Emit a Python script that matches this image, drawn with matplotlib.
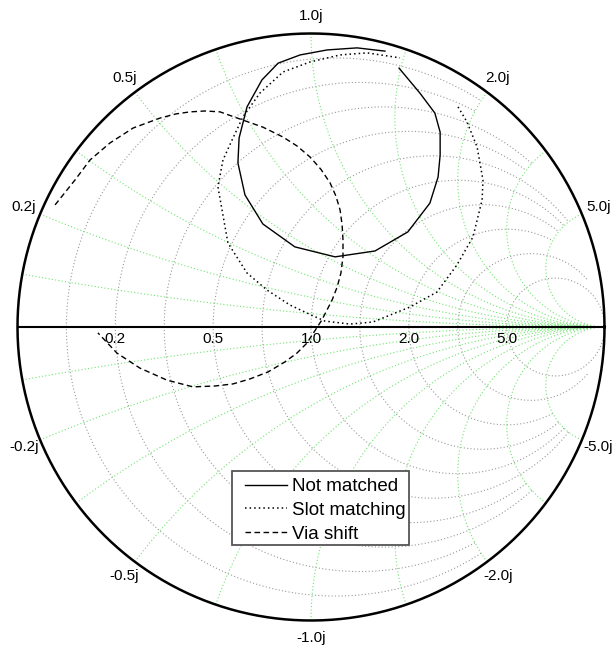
import numpy as np
import matplotlib
matplotlib.use("Agg")
import matplotlib.pyplot as plt
from matplotlib.patches import Rectangle

plt.rcParams['font.family'] = ['Liberation Sans', 'DejaVu Sans']

# Grid values: constant resistance / reactance (normalised)
grid_values = [1 / 11, 1 / 5, 1 / 3, 1 / 2, 5 / 7, 1.0, 7 / 5, 2.0, 3.0, 5.0]
# reactance at which each resistance circle stops (None = full circle)
grid_stop = [2.0, 2.0, 3.0, 3.0, 5.0, 5.0, 5.0, 5.0, 11.0, None]
label_values = [0.2, 0.5, 1.0, 2.0, 5.0]

# Reflection coefficient traces (real, imag)
not_matched_re = [0.300, 0.371, 0.422, 0.440, 0.440, 0.433, 0.405, 0.330, 0.218, 0.082,
                  -0.055, -0.164, -0.225, -0.249, -0.245, -0.218, -0.167, -0.112, -0.037,
                  0.055, 0.157, 0.252]
not_matched_im = [0.882, 0.797, 0.729, 0.664, 0.586, 0.511, 0.422, 0.324, 0.259, 0.239,
                  0.273, 0.351, 0.450, 0.559, 0.644, 0.750, 0.842, 0.899, 0.927,
                  0.944, 0.951, 0.940]

slot_re = [0.501, 0.532, 0.566, 0.586, 0.583, 0.552, 0.497, 0.429, 0.337, 0.211,
           0.133, 0.048, 0.007, -0.072, -0.150, -0.218, -0.283, -0.317, -0.300, -0.269,
           -0.232, -0.174, -0.095, -0.003, 0.099, 0.191, 0.303]
slot_im = [0.750, 0.698, 0.613, 0.501, 0.433, 0.307, 0.211, 0.119, 0.068, 0.017,
           0.010, 0.020, 0.038, 0.075, 0.126, 0.184, 0.286, 0.477, 0.569, 0.637,
           0.716, 0.797, 0.869, 0.903, 0.927, 0.934, 0.917]

via_re = [-0.872, -0.804, -0.753, -0.685, -0.606, -0.514, -0.460, -0.412, -0.361, -0.310,
          -0.232, -0.164, -0.095, -0.048, -0.003, 0.034, 0.065, 0.085, 0.099, 0.106,
          0.109, 0.109, 0.102, 0.089, 0.072, 0.037, -0.014, -0.048, -0.089, -0.146,
          -0.208, -0.266, -0.327, -0.402, -0.491, -0.583, -0.661, -0.726]
via_im = [0.416, 0.501, 0.569, 0.627, 0.678, 0.712, 0.726, 0.733, 0.736, 0.733,
          0.705, 0.681, 0.647, 0.617, 0.579, 0.537, 0.491, 0.446, 0.399, 0.348,
          0.296, 0.239, 0.184, 0.136, 0.092, 0.024, -0.055, -0.089, -0.119, -0.153,
          -0.177, -0.194, -0.201, -0.204, -0.181, -0.140, -0.089, -0.020]


def gamma(z):
    return (z - 1) / (z + 1)


fig = plt.figure(figsize=(6.13, 6.46), dpi=100)
ax = fig.add_axes([0, 0, 1, 1])
ax.axis('off')
R = 293.5
ax.set_xlim(-311 / R, 302 / R)
ax.set_ylim(-319 / R, 327 / R)

gray = dict(color='#9a9a9a', lw=0.8, ls=(0, (1, 2)), zorder=1)
green = dict(color='#70e470', lw=0.8, ls=(0, (1, 2)), zorder=1)

# constant resistance circles
for r, xmax in zip(grid_values, grid_stop):
    if xmax is None:
        t = np.linspace(0, 2 * np.pi, 500)
        c, rad = r / (1 + r), 1 / (1 + r)
        ax.plot(c + rad * np.cos(t), rad * np.sin(t), **gray)
    else:
        x = np.linspace(-xmax, xmax, 800)
        g = gamma(r + 1j * x)
        ax.plot(g.real, g.imag, **gray)

# constant reactance arcs, running into the open-circuit point
t = np.linspace(0, 1, 600)[:-1]
rr = t / (1 - t) * 3
for xv in grid_values:
    for s in (1, -1):
        g = gamma(rr + 1j * s * xv)
        ax.plot(np.append(g.real, 1.0), np.append(g.imag, 0.0), **green)

# outline and real axis
t = np.linspace(0, 2 * np.pi, 800)
ax.plot(np.cos(t), np.sin(t), color='black', lw=1.8, zorder=3)
ax.plot([-1, 1], [0, 0], color='black', lw=1.5, zorder=3)

# labels
for v in label_values:
    ax.text(gamma(v).real, -0.041, f"{v:.1f}", ha='center', va='center', fontsize=11)
    for s in (1, -1):
        g = gamma(1j * s * v) * 1.06
        lab = f"{v:.1f}j" if s > 0 else f"-{v:.1f}j"
        ax.text(g.real, g.imag, lab, ha='center', va='center', fontsize=11)

ax.plot(not_matched_re, not_matched_im, color='black', lw=1.0, ls='-',
        label='Not matched', zorder=4)
ax.plot(slot_re, slot_im, color='black', lw=1.1, ls=(0, (1, 2)),
        label='Slot matching', zorder=4)
ax.plot(via_re, via_im, color='black', lw=1.0, ls=(0, (4, 2.5)),
        label='Via shift', zorder=4)

# legend box drawn separately so the entries can sit with their own padding
box_l, box_r, box_t, box_b = 232, 409, 471, 545
ax.add_patch(Rectangle(((box_l - 311) / R, (327 - box_b) / R),
                       (box_r - box_l) / R, (box_b - box_t) / R,
                       facecolor='white', edgecolor='#555555', lw=1.3, zorder=5))
leg = ax.legend(loc='upper left', bbox_to_anchor=(245 / 613, 1 - 478 / 646),
                borderaxespad=0, borderpad=0, fontsize=13.5, frameon=False,
                handlelength=2.24, handletextpad=0.27, labelspacing=0.36)
leg.set_zorder(6)

fig.savefig('out.png', dpi=100)
